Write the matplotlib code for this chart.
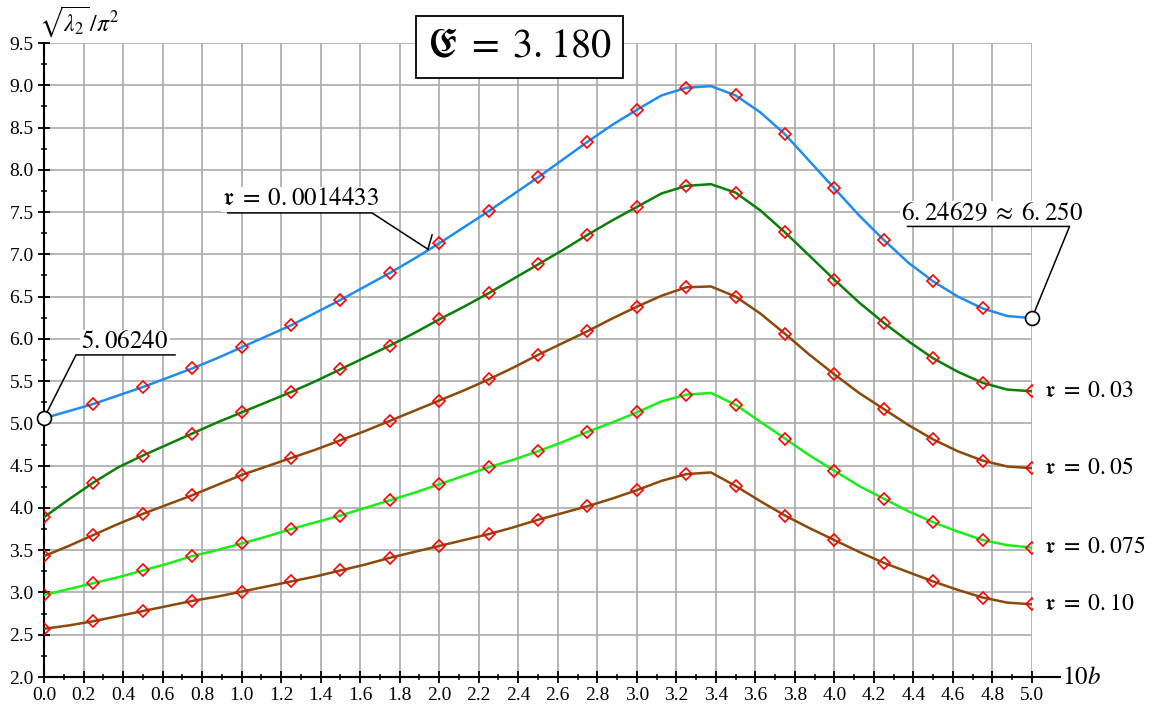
import numpy as np
import matplotlib
matplotlib.use('Agg')
import matplotlib.pyplot as plt
from matplotlib.ticker import MultipleLocator, FormatStrFormatter

plt.rcParams['font.family'] = ['Liberation Serif', 'DejaVu Serif']
plt.rcParams['mathtext.fontset'] = 'stix'

# abscisa 10b, krok 0.125 (markery kazdy druhy bod)
x = np.arange(0, 41) * 0.125

y_0014433 = [5.062, 5.145, 5.23, 5.33, 5.43, 5.54, 5.65, 5.77, 5.90, 6.03,
             6.16, 6.31, 6.46, 6.62, 6.78, 6.95, 7.13, 7.32, 7.51, 7.71,
             7.91, 8.12, 8.33, 8.53, 8.71, 8.88, 8.97, 8.99, 8.88, 8.68,
             8.42, 8.10, 7.78, 7.46, 7.17, 6.90, 6.68, 6.50, 6.36, 6.27, 6.246]
y_003 = [3.89, 4.10, 4.30, 4.48, 4.62, 4.75, 4.88, 5.01, 5.13, 5.25,
         5.37, 5.50, 5.64, 5.78, 5.92, 6.07, 6.23, 6.38, 6.54, 6.71,
         6.88, 7.05, 7.23, 7.40, 7.56, 7.72, 7.81, 7.83, 7.73, 7.52,
         7.26, 6.98, 6.70, 6.43, 6.19, 5.97, 5.77, 5.61, 5.48, 5.40, 5.38]
y_005 = [3.43, 3.55, 3.68, 3.81, 3.93, 4.04, 4.15, 4.27, 4.39, 4.49,
         4.59, 4.69, 4.80, 4.91, 5.03, 5.15, 5.27, 5.39, 5.52, 5.66,
         5.81, 5.95, 6.09, 6.24, 6.38, 6.51, 6.61, 6.62, 6.50, 6.30,
         6.06, 5.81, 5.58, 5.36, 5.17, 4.98, 4.81, 4.67, 4.56, 4.49, 4.47]
y_0075 = [2.97, 3.04, 3.11, 3.18, 3.26, 3.34, 3.43, 3.50, 3.58, 3.66,
          3.75, 3.83, 3.91, 4.00, 4.09, 4.18, 4.28, 4.38, 4.48, 4.57,
          4.67, 4.78, 4.90, 5.01, 5.13, 5.26, 5.34, 5.36, 5.22, 5.02,
          4.82, 4.62, 4.44, 4.26, 4.11, 3.96, 3.83, 3.72, 3.62, 3.56, 3.53]
y_010 = [2.57, 2.61, 2.66, 2.72, 2.78, 2.84, 2.90, 2.95, 3.01, 3.07,
         3.13, 3.19, 3.26, 3.33, 3.41, 3.48, 3.55, 3.62, 3.69, 3.77,
         3.86, 3.94, 4.02, 4.11, 4.21, 4.32, 4.40, 4.42, 4.26, 4.08,
         3.91, 3.76, 3.62, 3.48, 3.35, 3.24, 3.13, 3.03, 2.94, 2.88, 2.86]

krivky = [(y_0014433, '#1e8cf0'), (y_003, '#0a800a'), (y_005, '#8b4a0a'),
          (y_0075, '#19ee19'), (y_010, '#8b4a0a')]
d = r'.\hspace{0.05}'   # maly odstup za desatinnou bodkou
popisy = [(r'$\mathfrak{r}\;=\;0' + d + '03$', y_003[-1]),
          (r'$\mathfrak{r}\;=\;0' + d + '05$', y_005[-1]),
          (r'$\mathfrak{r}\;=\;0' + d + '075$', y_0075[-1]),
          (r'$\mathfrak{r}\;=\;0' + d + '10$', y_010[-1])]

fig = plt.figure(figsize=(11.52, 7.11), dpi=100)
ax = fig.add_axes([44/1152, 1-677/711, (1032-44)/1152, (677-43)/711])

for yy, c in krivky:
    ax.plot(x, yy, color=c, lw=1.8, zorder=3)
    ax.plot(x[::2], yy[::2], ls='none', marker='D', ms=6.5, mfc='none',
            mec='red', mew=1.2, zorder=4)

# krajne body
ax.plot([x[0], x[-1]], [y_0014433[0], y_0014433[-1]], ls='none', marker='o',
        ms=10, mfc='white', mec='black', mew=1.2, zorder=5, clip_on=False)

ax.set_xlim(0, 5)
ax.set_ylim(2, 9.5)
ax.xaxis.set_major_locator(MultipleLocator(0.2))
ax.xaxis.set_minor_locator(MultipleLocator(0.1))
ax.yaxis.set_major_locator(MultipleLocator(0.5))
ax.yaxis.set_minor_locator(MultipleLocator(0.25))
ax.xaxis.set_major_formatter(FormatStrFormatter('%.1f'))
ax.yaxis.set_major_formatter(FormatStrFormatter('%.1f'))
ax.grid(True, which='major', color='#aaaaaa', lw=1.2)
ax.set_axisbelow(True)
ax.tick_params(which='major', direction='inout', length=8, width=1.3, labelsize=14)
ax.tick_params(which='minor', direction='inout', length=5, width=1.1)
for s in ['top', 'right']:
    ax.spines[s].set_visible(False)
for s in ['left', 'bottom']:
    ax.spines[s].set_linewidth(1.5)

# predlzenie osi x
ax.plot([0, 1.028], [0, 0], transform=ax.transAxes, color='black', lw=1.5, clip_on=False)
fig.text(1062/1152, 1-678/711, r'$10b$', fontsize=18, va='center', ha='left')
fig.text(39/1152, 1-22/711, r'$\sqrt{\lambda_2}\,/\pi^2$', fontsize=17, va='center', ha='left')

fig.text(0.451, 1-47/711, r'$\mathfrak{E}\;=\;3' + d + '180$', fontsize=29, ha='center',
         va='center', bbox=dict(boxstyle='square,pad=0.3', fc='white', ec='black', lw=1.3))

for txt, yv in popisy:
    ax.text(5.06, yv, txt, fontsize=17, va='center', ha='left', clip_on=False)

# popisky s odkazom
ax.text(1.30, 7.52, r'$\mathfrak{r}\;=\;0' + d + '0014433$', fontsize=18, ha='center',
        va='bottom', bbox=dict(fc='white', ec='none', pad=1))
ax.plot([0.93, 1.66, 1.943], [7.49, 7.49, 7.06], color='black', lw=1.1, zorder=6)
ax.plot([1.943, 1.964], [7.06, 7.23], color='black', lw=1.1, zorder=6)

ax.text(0.41, 5.83, r'$5' + d + '06240$', fontsize=18, ha='center', va='bottom',
        bbox=dict(fc='white', ec='none', pad=1))
ax.plot([0.663, 0.162, 0.0], [5.81, 5.81, y_0014433[0]], color='black', lw=1.1, zorder=4)

ax.text(4.80, 7.35, r'$6' + d + r'24629\;\approx\;6' + d + '250$', fontsize=18, ha='center',
        va='bottom', bbox=dict(fc='white', ec='none', pad=1), clip_on=False)
ax.plot([4.37, 5.19, 5.0], [7.33, 7.33, y_0014433[-1]], color='black', lw=1.1, zorder=4,
        clip_on=False)

fig.savefig('out.png', dpi=100)
